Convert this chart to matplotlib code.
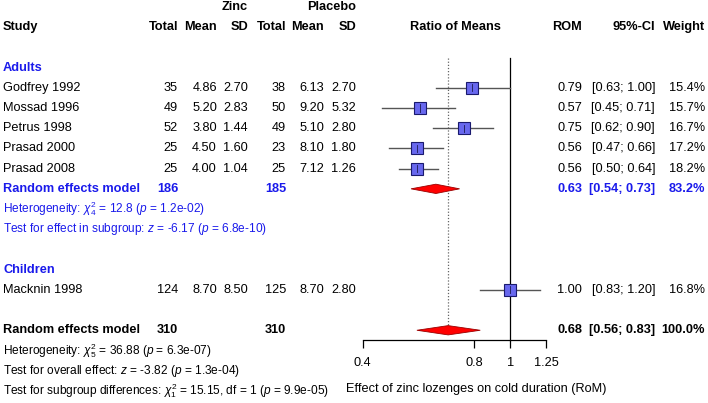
import numpy as np
import matplotlib
matplotlib.use('Agg')
import matplotlib.pyplot as plt

plt.rcParams['font.family'] = ['Liberation Sans', 'DejaVu Sans']
plt.rcParams['mathtext.fontset'] = 'custom'
plt.rcParams['mathtext.rm'] = 'Liberation Sans'
plt.rcParams['mathtext.it'] = 'Liberation Sans:italic'
plt.rcParams['mathtext.bf'] = 'Liberation Sans:bold'

# dados dos estudos
studies = ['Godfrey 1992', 'Mossad 1996', 'Petrus 1998', 'Prasad 2000', 'Prasad 2008', 'Macknin 1998']
group = ['Adults', 'Adults', 'Adults', 'Adults', 'Adults', 'Children']
n_zinc = [35, 49, 52, 25, 25, 124]
mean_zinc = [4.86, 5.20, 3.80, 4.50, 4.00, 8.70]
sd_zinc = [2.70, 2.83, 1.44, 1.60, 1.04, 8.50]
n_plac = [38, 50, 49, 23, 25, 125]
mean_plac = [6.13, 9.20, 5.10, 8.10, 7.12, 8.70]
sd_plac = [2.70, 5.32, 2.80, 1.80, 1.26, 2.80]
rom = [0.79, 0.57, 0.75, 0.56, 0.56, 1.00]
ci_lo = [0.63, 0.45, 0.62, 0.47, 0.50, 0.83]
ci_hi = [1.00, 0.71, 0.90, 0.66, 0.64, 1.20]
weight = [15.4, 15.7, 16.7, 17.2, 18.2, 16.8]

# modelos agrupados: subgrupo Adults e total
sub_rom, sub_lo, sub_hi, sub_w = 0.63, 0.54, 0.73, 83.2
sub_n = (186, 185)
tot_rom, tot_lo, tot_hi, tot_w = 0.68, 0.56, 0.83, 100.0
tot_n = (310, 310)

xticks = [0.4, 0.8, 1, 1.25]
xticklabels = ['0.4', '0.8', '1', '1.25']

# linhas (em unidades de "linha" da tabela)
study_rows = [4, 5, 6, 7, 8, 14]
row_sub, row_tot = 9, 16

W, H = 708, 403
fig = plt.figure(figsize=(W / 100, H / 100), dpi=100)
ylim = (19.60, -0.3465)

ax = fig.add_axes([0, 0, 1, 1])
ax.set_xlim(0, W)
ax.set_ylim(*ylim)
ax.axis('off')

x0, x1 = 362.7, 546.2
fx = fig.add_axes([x0 / W, 0, (x1 - x0) / W, 1])
fx.patch.set_alpha(0)
fx.set_xscale('log')
fx.set_xlim(0.4, 1.25)
fx.set_ylim(*ylim)

fs = 9.2
fs2 = 8.6
blue = '#1a1aeb'

def t(x, r, s, ha='right', **kw):
    kw.setdefault('fontsize', fs)
    ax.text(x, r, s, ha=ha, va='center', **kw)

# cabecalho
t(248, 0, 'Zinc', weight='bold')
t(356, 0, 'Placebo', weight='bold')
heads = [(3, 'Study', 'left'), (178, 'Total', 'right'), (217, 'Mean', 'right'), (248, 'SD', 'right'),
         (286, 'Total', 'right'), (324, 'Mean', 'right'), (356, 'SD', 'right'),
         (455, 'Ratio of Means', 'center'), (582, 'ROM', 'right'), (655, '95%-CI', 'right'),
         (705, 'Weight', 'right')]
for x, s, ha in heads:
    t(x, 1, s, ha=ha, weight='bold')

t(3, 3, 'Adults', ha='left', weight='bold', color=blue)
t(3, 13, 'Children', ha='left', weight='bold', color=blue)

for i, r in enumerate(study_rows):
    t(3, r, studies[i], ha='left')
    t(178, r, '%d' % n_zinc[i])
    t(217, r, '%.2f' % mean_zinc[i])
    t(248, r, '%.2f' % sd_zinc[i])
    t(286, r, '%d' % n_plac[i])
    t(324, r, '%.2f' % mean_plac[i])
    t(356, r, '%.2f' % sd_plac[i])
    t(582, r, '%.2f' % rom[i])
    t(655, r, '[%.2f; %.2f]' % (ci_lo[i], ci_hi[i]))
    t(705, r, '%.1f%%' % weight[i])

# modelos
for r, n, est, lo, hi, w, c in [(row_sub, sub_n, sub_rom, sub_lo, sub_hi, sub_w, blue),
                                (row_tot, tot_n, tot_rom, tot_lo, tot_hi, tot_w, 'black')]:
    t(3, r, 'Random effects model', ha='left', weight='bold', color=c)
    t(178, r, '%d' % n[0], weight='bold', color=c)
    t(286, r, '%d' % n[1], weight='bold', color=c)
    t(582, r, '%.2f' % est, weight='bold', color=c)
    t(655, r, '[%.2f; %.2f]' % (lo, hi), weight='bold', color=c)
    t(705, r, '%.1f%%' % w, weight='bold', color=c)

t(3, 10, r'Heterogeneity: $\chi^2_4$ = 12.8 ($p$ = 1.2e-02)', ha='left', fontsize=fs2, color=blue)
t(3, 11, r'Test for effect in subgroup: $z$ = -6.17 ($p$ = 6.8e-10)', ha='left', fontsize=fs2, color=blue)
t(3, 17, r'Heterogeneity: $\chi^2_5$ = 36.88 ($p$ = 6.3e-07)', ha='left', fontsize=fs2)
t(3, 18, r'Test for overall effect: $z$ = -3.82 ($p$ = 1.3e-04)', ha='left', fontsize=fs2)
t(3, 19, r'Test for subgroup differences: $\chi^2_1$ = 15.15, df = 1 ($p$ = 9.9e-05)', ha='left', fontsize=fs2)

# parte grafica
fx.plot([1, 1], [2.52, 16.5], color='black', lw=0.9, clip_on=False)
fx.plot([tot_rom, tot_rom], [2.52, 16.0], color='#666666', lw=0.9, ls=(0, (1, 1.5)), clip_on=False)

for i, r in enumerate(study_rows):
    fx.plot([ci_lo[i], ci_hi[i]], [r, r], color='#555555', lw=1.0, clip_on=False, zorder=2)
    ms = 2.9 * np.sqrt(weight[i]) / 1.389
    fx.plot(rom[i], r, marker='s', ms=ms, mfc='#6868ee', mec='#1a1a6e', mew=0.8,
            clip_on=False, zorder=3)
    fx.plot([rom[i], rom[i]], [r - 0.18, r + 0.18], color='#1a1a50', lw=0.6, zorder=4, clip_on=False)

hh = 0.23
for r, est, lo, hi in [(row_sub, sub_rom, sub_lo, sub_hi), (row_tot, tot_rom, tot_lo, tot_hi)]:
    fx.fill([lo, est, hi, est], [r, r - hh, r, r + hh], facecolor='#ff0000',
            edgecolor='#990000', lw=0.6, zorder=3, clip_on=False)

for s in ['top', 'left', 'right']:
    fx.spines[s].set_visible(False)
fx.spines['bottom'].set_position(('data', 16.5))
fx.spines['bottom'].set_bounds(0.4, 1.25)
fx.spines['bottom'].set_linewidth(0.9)
fx.set_yticks([])
fx.set_xticks(xticks)
fx.set_xticklabels(xticklabels)
fx.xaxis.set_minor_locator(matplotlib.ticker.NullLocator())
fx.tick_params(axis='x', direction='out', length=5.8, width=0.9, pad=6, labelsize=fs)

t(476, 18.9, 'Effect of zinc lozenges on cold duration (RoM)', ha='center')

fig.savefig('out.png', dpi=100)
